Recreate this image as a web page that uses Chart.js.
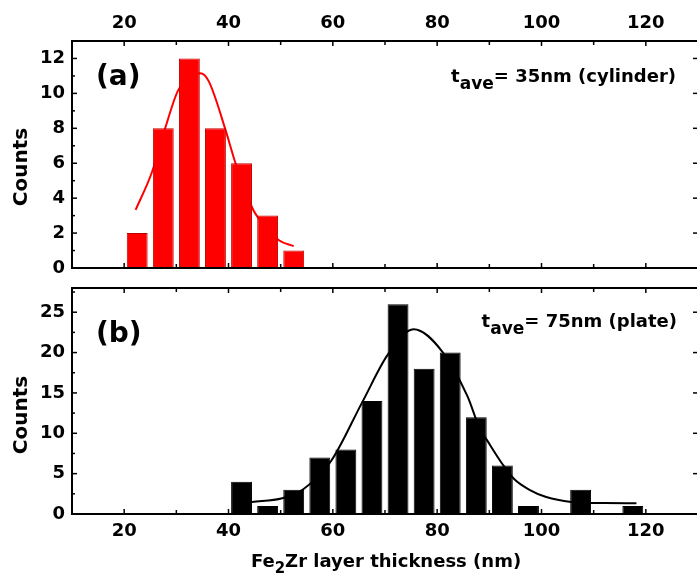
<!DOCTYPE html>
<html>
<head>
<meta charset="utf-8">
<script src="https://cdn.jsdelivr.net/npm/chart.js"></script>
<style>
  html, body { margin: 0; padding: 0; background: #fff; overflow: hidden; }
  #wrap { position: relative; width: 700px; height: 584px; }
  canvas { position: absolute; left: 0; }
  #top { top: 0; }
  #bottom { top: 280px; }
</style>
</head>
<body>
<div id="wrap">
  <canvas id="top" width="700" height="280"></canvas>
  <canvas id="bottom" width="700" height="304"></canvas>
</div>
<script>
// (a) cylinder histogram
const binsA = [22.5, 27.5, 32.5, 37.5, 42.5, 47.5, 52.5];
const countsA = [2, 8, 12, 8, 6, 3, 1];
const fitXA = [22.2, 25.3, 27.8, 30.4, 34.6, 36.2, 39.4, 41.3, 44.5, 45.4, 49.6, 52.5];
const fitYA = [3.33, 5.47, 7.94, 10.2, 11.15, 10.7, 7.94, 6.04, 3.48, 3.0, 1.6, 1.25];

// (b) plate histogram
const binsB = [42.5, 47.5, 52.5, 57.5, 62.5, 67.5, 72.5, 77.5, 82.5, 87.5, 92.5, 97.5, 107.5, 117.5];
const countsB = [4, 1, 3, 7, 8, 14, 26, 18, 20, 12, 6, 1, 3, 1];
const fitXB = [44.5, 50.3, 54.4, 59.6, 65.6, 70.6, 75.5, 81.0, 85.8, 88.1, 89.7, 92.6, 94.8, 97.7, 100.9, 105.7, 112, 118.2];
const fitYB = [1.5, 1.95, 3.1, 6.5, 13.8, 19.8, 22.9, 20.1, 14.6, 10.7, 9.0, 6.1, 4.3, 3.0, 2.1, 1.5, 1.35, 1.33];

const xMin = 10, xMax = 130;
const xLabelTicks = [20, 40, 60, 80, 100, 120];

Chart.defaults.font.family = 'DejaVu Sans';
Chart.defaults.font.weight = 'bold';
Chart.defaults.font.size = 18;
Chart.defaults.color = '#000';

const toPoints = (xs, ys) => xs.map((x, i) => ({ x: x, y: ys[i] }));

function line(ctx, x1, y1, x2, y2) {
    ctx.beginPath();
    ctx.moveTo(x1, y1);
    ctx.lineTo(x2, y2);
    ctx.stroke();
}

// fixed axis sizes, no extra room for overhanging labels
function fixSize(w, h) {
    return s => {
        if (w !== null) s.width = w;
        if (h !== null) s.height = h;
        s.paddingLeft = s.paddingRight = s.paddingTop = s.paddingBottom = 0;
    };
}

// frame, inward ticks and the texts of each panel
const panelPlugin = {
    id: 'panel',
    afterDatasetsDraw(chart, args, o) {
        const { ctx, chartArea: a, scales } = chart;
        ctx.save();
        ctx.strokeStyle = '#000';
        ctx.lineWidth = 2;
        ctx.strokeRect(a.left, a.top, a.right - a.left, a.bottom - a.top);

        ctx.lineWidth = 1.5;
        scales.x.ticks.forEach(t => {
            const px = scales.x.getPixelForValue(t.value);
            const len = t.label ? 5 : 4;
            line(ctx, px, a.top, px, a.top + len);
            line(ctx, px, a.bottom, px, a.bottom - len);
        });
        scales.y.ticks.forEach(t => {
            const py = scales.y.getPixelForValue(t.value);
            const len = t.label ? 5 : 3;
            line(ctx, a.left, py, a.left + len, py);
            if (t.label) line(ctx, a.right, py, a.right - len, py);
        });

        ctx.fillStyle = '#000';
        ctx.textBaseline = 'alphabetic';

        // panel letter
        ctx.font = 'bold 28px "DejaVu Sans"';
        ctx.textAlign = 'left';
        ctx.fillText(o.letter, o.letterX, o.letterY);

        // t_ave annotation, right aligned
        const mainFont = 'bold 18px "DejaVu Sans"';
        const subFont = 'bold 17px "DejaVu Sans"';
        ctx.font = mainFont;
        const wT = ctx.measureText('t').width;
        const wRest = ctx.measureText(o.note).width;
        ctx.font = subFont;
        const wSub = ctx.measureText('ave').width;
        let x = o.noteRight - (wT + wSub + wRest);
        ctx.font = mainFont;
        ctx.fillText('t', x, o.noteY);
        x += wT;
        ctx.font = subFont;
        ctx.fillText('ave', x, o.noteY + 7);
        x += wSub;
        ctx.font = mainFont;
        ctx.fillText(o.note, x, o.noteY);

        // y title
        ctx.save();
        ctx.translate(22, o.countsY);
        ctx.rotate(-Math.PI / 2);
        ctx.font = 'bold 20px "DejaVu Sans"';
        ctx.textAlign = 'center';
        ctx.textBaseline = 'middle';
        ctx.fillText('Counts', 0, 0);
        ctx.restore();

        // x title with subscript
        if (o.xTitle) {
            const f1 = 'bold 18px "DejaVu Sans"';
            const f2 = 'bold 15px "DejaVu Sans"';
            ctx.font = f1;
            const w1 = ctx.measureText('Fe').width;
            const w3 = ctx.measureText('Zr layer thickness (nm)').width;
            ctx.font = f2;
            const w2 = ctx.measureText('2').width;
            const cx = (a.left + a.right) / 2 + 1;
            let tx = cx - (w1 + w2 + w3) / 2;
            ctx.font = f1;
            ctx.fillText('Fe', tx, o.xTitleY);
            tx += w1;
            ctx.font = f2;
            ctx.fillText('2', tx, o.xTitleY + 6);
            tx += w2;
            ctx.font = f1;
            ctx.fillText('Zr layer thickness (nm)', tx, o.xTitleY);
        }
        ctx.restore();
    }
};

function makePanel(canvasId, bins, counts, fitX, fitY, color, edge, yMax, yStep, yLabelStep, xPos, xAxisH, padding, panelOpts) {
    return new Chart(document.getElementById(canvasId), {
        type: 'bar',
        data: {
            datasets: [
                {
                    type: 'bar',
                    data: toPoints(bins, counts),
                    backgroundColor: color,
                    borderColor: edge,
                    borderWidth: 1,
                    barPercentage: 0.8,
                    categoryPercentage: 1,
                    order: 1
                },
                {
                    type: 'line',
                    data: toPoints(fitX, fitY),
                    borderColor: color,
                    borderWidth: 2,
                    pointRadius: 0,
                    cubicInterpolationMode: 'monotone',
                    fill: false,
                    order: 2
                }
            ]
        },
        options: {
            responsive: false,
            animation: false,
            layout: { padding: padding },
            plugins: { legend: { display: false }, tooltip: { enabled: false }, panel: panelOpts },
            scales: {
                x: {
                    type: 'linear',
                    position: xPos,
                    min: xMin,
                    max: xMax,
                    offset: false,
                    grid: { display: false, drawTicks: false, offset: false },
                    border: { display: false },
                    ticks: {
                        stepSize: 10,
                        autoSkip: false,
                        maxRotation: 0,
                        padding: 7,
                        callback: v => xLabelTicks.includes(v) ? String(v) : ''
                    },
                    afterFit: fixSize(null, xAxisH)
                },
                y: {
                    min: 0,
                    max: yMax,
                    grid: { display: false, drawTicks: false },
                    border: { display: false },
                    ticks: {
                        stepSize: yStep,
                        includeBounds: false,
                        autoSkip: false,
                        padding: 7,
                        callback: v => (Math.abs(v / yLabelStep - Math.round(v / yLabelStep)) < 1e-6 && v <= yMax - 1) ? String(v) : ''
                    },
                    afterFit: fixSize(72, null)
                }
            }
        },
        plugins: [panelPlugin]
    });
}

makePanel('top', binsA, countsA, fitXA, fitYA, '#ff0000', '#c00000', 13, 1, 2, 'top', 41,
    { left: 0, right: 2, top: 0, bottom: 12 },
    { letter: '(a)', letterX: 96, letterY: 85, note: '= 35nm (cylinder)', noteRight: 676, noteY: 82, countsY: 167 });

makePanel('bottom', binsB, countsB, fitXB, fitYB, '#000000', '#000000', 28, 2.5, 5, 'bottom', 70,
    { left: 0, right: 2, top: 8, bottom: 0 },
    { letter: '(b)', letterX: 96, letterY: 62, note: '= 75nm (plate)', noteRight: 677, noteY: 47, countsY: 135, xTitle: true, xTitleY: 287 });
</script>
</body>
</html>
